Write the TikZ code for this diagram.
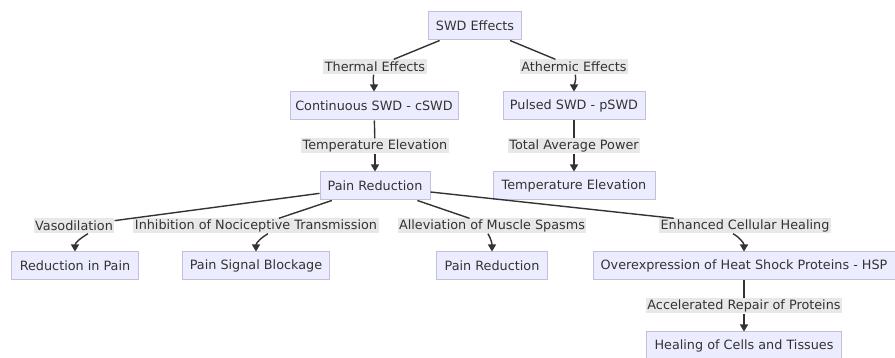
\documentclass[tikz,border=0pt]{standalone}
\usepackage{fontspec}
\setmainfont{DejaVu Sans}
\usepackage{xcolor}
\usetikzlibrary{arrows.meta,positioning,calc}
\definecolor{swdfill}{HTML}{ECECFF}
\definecolor{swdline}{HTML}{C4BEDF}
\definecolor{swdlabel}{HTML}{E8E8E8}
\definecolor{swdink}{HTML}{333333}

\begin{document}
\begin{tikzpicture}[x=1pt, y=-1pt, font=\fontsize{12.8}{14}\selectfont, text=swdink,
    box/.style={draw=swdline, line width=1pt, fill=swdfill, minimum height=28pt, inner sep=0pt},
    lbl/.style={fill=swdlabel, inner xsep=1.5pt, inner ysep=1pt, minimum height=15pt},
    arr/.style={-{Triangle[length=7pt,width=8pt]}, line width=1.4pt, draw=swdink},
    ln/.style={line width=1.4pt, draw=swdink}]
        \useasboundingbox[fill=white] (0,0) rectangle (895,358);
        % boxes
        \node[box, minimum width=93pt] (swd) at (475,26) {SWD Effects};
        \node[box, minimum width=168pt] (cswd) at (374,106) {Continuous SWD - cSWD};
        \node[box, minimum width=142pt] (pswd) at (574,106) {Pulsed SWD - pSWD};
        \node[box, minimum width=110pt] (painred) at (375,186) {Pain Reduction};
        \node[box, minimum width=162pt] (tempup) at (574,186) {Temperature Elevation};
        \node[box, minimum width=127pt] (lesspain) at (75,266) {Reduction in Pain};
        \node[box, minimum width=147pt] (block) at (256,266) {Pain Signal Blockage};
        \node[box, minimum width=111pt] (painred2) at (492,266) {Pain Reduction};
        \node[box, minimum width=302pt] (hsp) at (744,266) {Overexpression of Heat Shock Proteins - HSP};
        \node[box, minimum width=195pt] (heal) at (744,346) {Healing of Cells and Tissues};
        % edge labels
        \node[lbl] (thermal) at (375,67) {Thermal Effects};
        \node[lbl] (athermic) at (574,67) {Athermic Effects};
        \node[lbl] (tempel) at (375,146) {Temperature Elevation};
        \node[lbl] (power) at (574,146) {Total Average Power};
        \node[lbl] (vaso) at (74,226) {Vasodilation};
        \node[lbl] (inhib) at (256,226) {Inhibition of Nociceptive Transmission};
        \node[lbl] (spasm) at (492,226) {Alleviation of Muscle Spasms};
        \node[lbl] (cellheal) at (745,226) {Enhanced Cellular Healing};
        \node[lbl] (repair) at (744,306) {Accelerated Repair of Proteins};
        % connectors
        \draw[ln] (swd) -- (thermal);
        \draw[arr] (thermal) to[out=-100,in=90] (cswd);
        \draw[ln] (swd) -- (athermic);
        \draw[arr] (athermic) to[out=-80,in=90] (pswd);
        \draw[ln] (cswd) -- (tempel);
        \draw[arr] (tempel) -- (painred);
        \draw[ln] (pswd) -- (power);
        \draw[arr] (power) -- (tempup);
        \draw[ln] (painred) -- (vaso);
        \draw[arr] ($(vaso.south)+(14,0)$) to[out=-150,in=90] (lesspain);
        \draw[ln] (painred) -- (inhib);
        \draw[arr] ($(inhib.south)+(12,0)$) to[out=-150,in=90] (block);
        \draw[ln] (painred) -- (spasm);
        \draw[arr] ($(spasm.south)+(-4,0)$) to[out=-60,in=90] (painred2);
        \draw[ln] (painred) -- (cellheal);
        \draw[arr] ($(cellheal.south)+(-12,0)$) to[out=-30,in=90] (hsp);
        \draw[ln] (hsp) -- (repair);
        \draw[arr] (repair) -- (heal);
      \end{tikzpicture}
\end{document}
